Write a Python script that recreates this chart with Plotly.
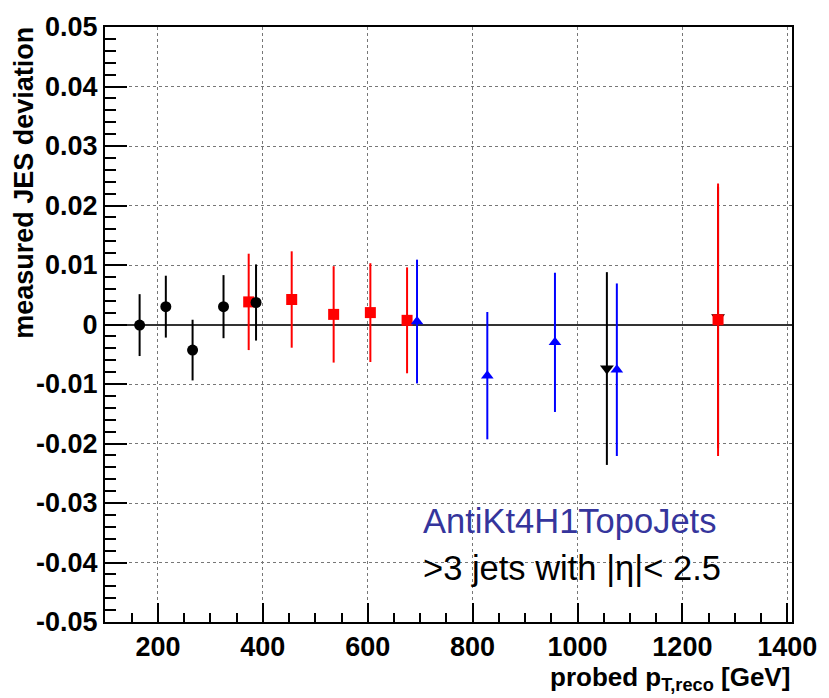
import plotly.graph_objects as go

# Measured JES deviation vs probed pT for the different selections
black_pt = [165, 215, 266, 325, 387]
black_dev = [-0.0001, 0.0030, -0.0043, 0.0030, 0.0037]
black_err = [0.0052, 0.0052, 0.0051, 0.0053, 0.0064]

red_pt = [373, 455, 535, 605, 675, 1268]
red_dev = [0.0038, 0.0042, 0.0017, 0.0020, 0.0007, 0.0008]
red_err = [0.0081, 0.0081, 0.0081, 0.0083, 0.0089, 0.0229]

blue_pt = [694, 828, 957, 1075]
blue_dev = [0.0005, -0.0086, -0.0030, -0.0076]
blue_err = [0.0104, 0.0107, 0.0117, 0.0145]

tri_pt = [1056, 1268]
tri_dev = [-0.0074, 0.0012]
tri_err = [0.0162, 0.0220]

x_ticks = [200, 400, 600, 800, 1000, 1200, 1400]
y_ticks = [-0.05, -0.04, -0.03, -0.02, -0.01, 0.0, 0.01, 0.02, 0.03, 0.04, 0.05]
y_ticktext = ["-0.05", "-0.04", "-0.03", "-0.02", "-0.01", "0",
              "0.01", "0.02", "0.03", "0.04", "0.05"]

FONT = "Liberation Sans, Arial, Helvetica, sans-serif"


def series(x, y, err, color, symbol, size):
    return go.Scatter(
        x=x, y=y, mode="markers",
        marker=dict(color=color, symbol=symbol, size=size, line=dict(width=0)),
        error_y=dict(type="data", array=err, visible=True,
                     color=color, thickness=2, width=0),
        showlegend=False, cliponaxis=False,
    )


fig = go.Figure()
fig.add_trace(series(tri_pt, tri_dev, tri_err, "black", "triangle-down", 12))
fig.add_trace(series(red_pt, red_dev, red_err, "#ff0000", "square", 11))
fig.add_trace(series(black_pt, black_dev, black_err, "black", "circle", 11))
fig.add_trace(series(blue_pt, blue_dev, blue_err, "#0000ff", "triangle-up", 11))

fig.update_layout(
    width=829, height=698,
    margin=dict(l=105, r=30, t=16, b=76),
    paper_bgcolor="white", plot_bgcolor="white",
    font=dict(family=FONT, color="black"),
    xaxis=dict(
        range=[99, 1409], tickvals=x_ticks,
        ticks="inside", ticklen=19, tickwidth=1.5, tickcolor="black",
        minor=dict(dtick=50, ticks="inside", ticklen=9, tickwidth=1.5,
                   tickcolor="black", showgrid=False),
        showline=True, linecolor="black", linewidth=2, mirror=True,
        showgrid=True, gridcolor="#777", gridwidth=1, griddash="dot",
        zeroline=False,
        tickfont=dict(size=27, weight="bold"),
    ),
    yaxis=dict(
        range=[-0.05, 0.05], tickvals=y_ticks, ticktext=y_ticktext,
        ticks="inside", ticklen=22, tickwidth=1.5, tickcolor="black",
        minor=dict(dtick=0.002, ticks="inside", ticklen=11, tickwidth=1.5,
                   tickcolor="black", showgrid=False),
        showline=True, linecolor="black", linewidth=2, mirror=True,
        showgrid=True, gridcolor="#777", gridwidth=1, griddash="dot",
        zeroline=True, zerolinecolor="#333", zerolinewidth=2,
        tickfont=dict(size=27, weight="bold"),
    ),
)

# Axis titles, aligned to the upper/right ends of the axes
fig.add_annotation(
    text="measured JES deviation", textangle=-90,
    xref="paper", yref="paper", x=-0.117, y=1.003,
    xanchor="center", yanchor="top", showarrow=False,
    font=dict(size=27, weight="bold", family=FONT),
)
fig.add_annotation(
    text="probed p<sub>T,reco</sub> [GeV]",
    xref="paper", yref="paper", x=1.0, y=-0.064,
    xanchor="right", yanchor="top", showarrow=False,
    font=dict(size=26, weight="bold", family=FONT),
)

# Jet collection and selection labels
fig.add_annotation(
    text="AntiKt4H1TopoJets",
    xref="paper", yref="paper", x=0.460, y=0.170,
    xanchor="left", yanchor="middle", showarrow=False,
    font=dict(size=34.5, color="#35359c", family=FONT),
)
fig.add_annotation(
    text=">3 jets with |η|< 2.5",
    xref="paper", yref="paper", x=0.460, y=0.090,
    xanchor="left", yanchor="middle", showarrow=False,
    font=dict(size=34.5, color="black", family=FONT),
)

fig.write_html("out.html")
